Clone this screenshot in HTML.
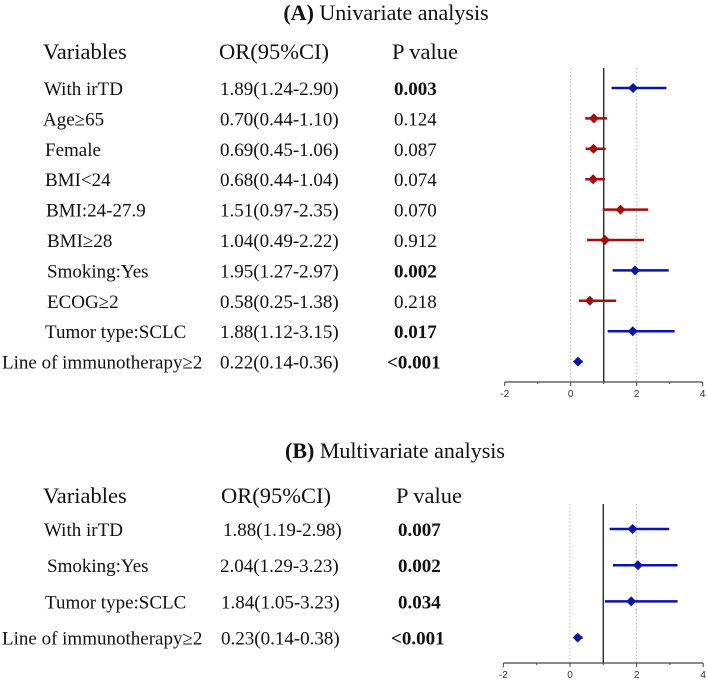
<!DOCTYPE html>
<html><head><meta charset="utf-8"><style>
body{margin:0;background:#fff}
svg{display:block}
.t{font-family:"Liberation Serif",serif;font-size:19px;fill:#111}
.h{font-family:"Liberation Serif",serif;font-size:22.5px;fill:#111}
.ti{font-family:"Liberation Serif",serif;font-size:22px;fill:#111}
.b{font-weight:bold}
.tk{font-family:"Liberation Sans",sans-serif;font-size:10px;fill:#333}
</style></head><body>
<svg id="s" width="708" height="680" viewBox="0 0 708 680" xmlns="http://www.w3.org/2000/svg">
<text x="386" y="20" text-anchor="middle" class="ti"><tspan class="b">(A)</tspan> Univariate analysis</text>
<text x="43" y="59" class="h">Variables</text>
<text x="219" y="59" class="h">OR(95%CI)</text>
<text x="392" y="59" class="h">P value</text>
<text x="395" y="458" text-anchor="middle" class="ti"><tspan class="b">(B)</tspan> Multivariate analysis</text>
<text x="43" y="503" class="h">Variables</text>
<text x="221" y="503" class="h">OR(95%CI)</text>
<text x="396" y="503" class="h">P value</text>
<g id="ga"></g><g id="gb"></g>
</svg>
<script>
const varsA=["With irTD","Age≥65","Female","BMI<24","BMI:24-27.9","BMI≥28","Smoking:Yes","ECOG≥2","Tumor type:SCLC","Line of immunotherapy≥2"];
const orA=[1.89,0.70,0.69,0.68,1.51,1.04,1.95,0.58,1.88,0.22];
const loA=[1.24,0.44,0.45,0.44,0.97,0.49,1.27,0.25,1.12,0.14];
const hiA=[2.90,1.10,1.06,1.04,2.35,2.22,2.97,1.38,3.15,0.36];
const pA=["0.003","0.124","0.087","0.074","0.070","0.912","0.002","0.218","0.017","<0.001"];
const varsB=["With irTD","Smoking:Yes","Tumor type:SCLC","Line of immunotherapy≥2"];
const orB=[1.88,2.04,1.84,0.23];
const loB=[1.19,1.29,1.05,0.14];
const hiB=[2.98,3.23,3.23,0.38];
const pB=["0.007","0.002","0.034","<0.001"];
const ticks=[-2,0,2,4];
const NS="http://www.w3.org/2000/svg";
function mk(p,tag,at){const e=document.createElementNS(NS,tag);for(const k in at)e.setAttribute(k,at[k]);p.appendChild(e);return e;}
function panel(g,vars,or,lo,hi,p,o){
  const x=v=>o.x0+v*o.u;
  const y=i=>o.y0+i*o.dy;
  const vx=[44,43,45,45,46,47,47,47,45];
  vars.forEach((v,i)=>{
    const lx=v.startsWith("Line")?2:(o.vx?o.vx[i]:vx[i]);
    const t=mk(g,"text",{x:lx,y:y(i)+7,class:"t"});t.textContent=v;
    
    
    const c=mk(g,"text",{x:o.ox?o.ox[i]:220,y:y(i)+7,class:"t"});c.textContent=or[i].toFixed(2)+"("+lo[i].toFixed(2)+"-"+hi[i].toFixed(2)+")";
    
    
    const sig=p[i].startsWith("<")||parseFloat(p[i])<0.05;
    const pt=mk(g,"text",{x:p[i].startsWith("<")?o.px-7:o.px,y:y(i)+7,class:"t"+(sig?" b":"")});pt.textContent=p[i];
    
    
  });
  [0,2].forEach(v=>{const l=mk(g,"line",{x1:x(v),x2:x(v),y1:o.top,y2:o.ax,stroke:"#bbb","stroke-width":1,"stroke-dasharray":"1.5,2"});
    
    });
  const ref=mk(g,"line",{x1:x(1),x2:x(1),y1:o.top,y2:o.ax,stroke:"#333","stroke-width":1.5});
  
  
  const axl=mk(g,"line",{x1:x(-2),x2:x(4),y1:o.ax,y2:o.ax,stroke:"#444","stroke-width":1.3});
  
  
  for(let v=-2;v<=4;v++){const tk=mk(g,"line",{x1:x(v),x2:x(v),y1:o.ax,y2:o.ax+(v%2===0?4:2),stroke:"#444"});
    
    }
  ticks.forEach(v=>{const t=mk(g,"text",{x:x(v),y:o.ax+15,"text-anchor":"middle",class:"tk"});t.textContent=v;
    
    });
  or.forEach((v,i)=>{
    const sig=p[i].startsWith("<")||parseFloat(p[i])<0.05;
    const col=sig?"#0b14a8":"#a80b0b";
    const l=mk(g,"line",{x1:x(lo[i]),x2:x(hi[i]),y1:y(i),y2:y(i),stroke:col,"stroke-width":2.5});
    
    
    const d=5,cx=x(v),cy=y(i);
    const m=mk(g,"polygon",{points:`${cx},${cy-d} ${cx+d},${cy} ${cx},${cy+d} ${cx-d},${cy}`,fill:col});
    
    
  });
}
panel(document.getElementById("ga"),varsA,orA,loA,hiA,pA,{x0:570.7,u:33,y0:88,dy:30.4,top:68,ax:382,px:394});
panel(document.getElementById("gb"),varsB,orB,loB,hiB,pB,{x0:570,u:33.3,y0:529,dy:36.2,top:504,ax:663,vx:[44,47,45],ox:[223,220,221,221],px:398});
</script>
</body></html>
